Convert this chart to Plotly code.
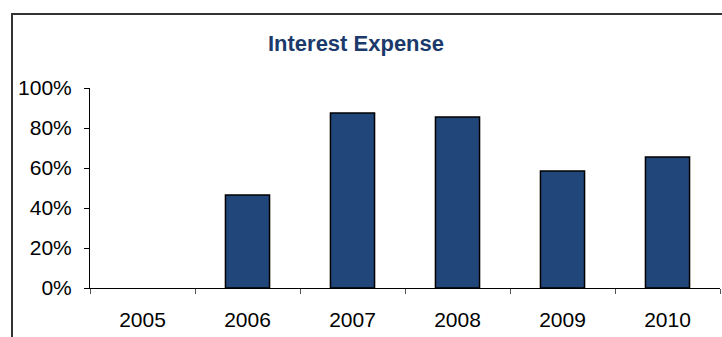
import plotly.graph_objects as go

years = ["2005", "2006", "2007", "2008", "2009", "2010"]
values = [None, 0.465, 0.875, 0.855, 0.585, 0.655]
y_ticks = [0, 0.2, 0.4, 0.6, 0.8, 1.0]
y_tick_labels = ["0%", "20%", "40%", "60%", "80%", "100%"]
title_text = "Interest Expense"

W, H = 722, 337
ml, mr, mt, mb = 90, 2, 88, 49

fig = go.Figure()
fig.add_trace(go.Bar(
    x=years, y=values,
    marker=dict(color="#21467A", line=dict(color="#000000", width=1.5)),
    width=0.42,
))

pw = W - ml - mr
ph = H - mt - mb

def px_to_paper_x(px):
    return (px - ml) / pw

def px_to_paper_y(py):
    return 1 + (mt - py) / ph

fig.add_shape(type="rect", xref="paper", yref="paper",
              x0=px_to_paper_x(12), x1=px_to_paper_x(740),
              y0=px_to_paper_y(360), y1=px_to_paper_y(14),
              line=dict(color="#333333", width=2), layer="above")

fig.update_layout(
    width=W, height=H,
    margin=dict(l=ml, r=mr, t=mt, b=mb),
    paper_bgcolor="white", plot_bgcolor="white",
    showlegend=False,
    font=dict(family="Liberation Sans, Arial, sans-serif", size=21, color="#000000"),
    title=dict(text="<b>" + title_text + "</b>", x=px_to_paper_x(356), xref="paper",
               xanchor="center", y=1 - 43 / H, yanchor="middle",
               font=dict(size=22, color="#1B3A6B")),
)
fig.update_xaxes(
    type="category", showline=True, linecolor="#000000", linewidth=1,
    ticks="outside", tickson="boundaries", ticklen=5, tickcolor="#555555",
    showgrid=False, ticklabelstandoff=13, range=[-0.5, 5.5],
)
fig.update_yaxes(
    range=[0, 1.0], tickvals=y_ticks, ticktext=y_tick_labels,
    showline=True, linecolor="#000000", linewidth=1,
    ticks="outside", ticklen=5, tickcolor="#000000",
    showgrid=False, zeroline=False, ticklabelstandoff=8,
)

fig.write_html("out.html")
